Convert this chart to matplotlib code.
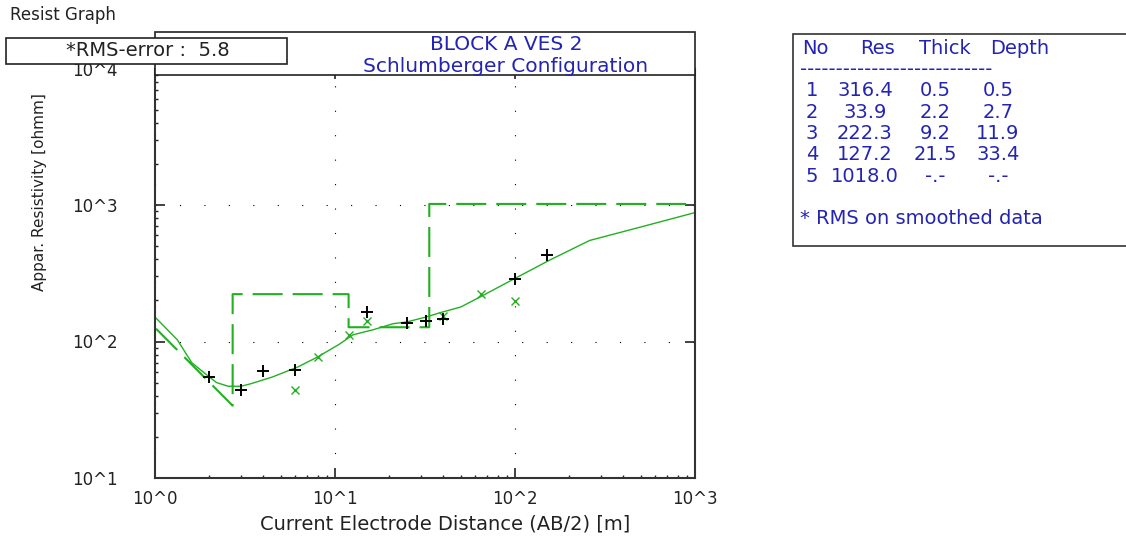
import numpy as np
import matplotlib
matplotlib.use('Agg')
import matplotlib.pyplot as plt
from matplotlib.patches import Rectangle
from matplotlib.ticker import FuncFormatter

# Sounding data: AB/2 [m] and apparent resistivity [ohmm]
field_ab2 = [2.0, 3.0, 4.0, 6.0, 15.0, 25.0, 32.0, 40.0, 100.0, 150.0]
field_rho = [55, 44, 61, 62, 164, 136, 141, 146, 287, 430]

smooth_ab2 = [6.0, 8.0, 12.0, 15.0, 40.0, 65.0, 100.0]
smooth_rho = [44, 77, 112, 141, 154, 223, 198]

# Calculated (model) response curve
curve_ab2 = [1.0, 1.33, 1.6, 2.0, 2.2, 2.55, 3.0, 3.4, 4.5, 6.2, 8.0, 10.5, 12.6,
             16.3, 21.0, 25.0, 32.0, 38.0, 50.0, 64.0, 100.0, 156.0, 260.0, 500.0, 1000.0]
curve_rho = [151, 103, 70, 55, 50, 47, 47, 49, 55, 65, 77, 95, 112,
             122, 135, 139, 151, 162, 179, 212, 290, 395, 550, 690, 880]

# Layered model
layer_no = ['1', '2', '3', '4', '5']
layer_res = [316.4, 33.9, 222.3, 127.2, 1018.0]
layer_thick = [0.5, 2.2, 9.2, 21.5]
layer_depth = [0.5, 2.7, 11.9, 33.4]

rms_error = 5.8
title_lines = ['BLOCK A VES 2', 'Schlumberger Configuration']

W, H = 1126, 556
green = '#22b022'
blue = '#2424b4'
font = 'DejaVu Sans'


def fx(x):
    return x / W


def fy(y):
    return 1 - y / H


def fmt_exp(v, pos):
    return '10^%d' % round(np.log10(v))


def fmt_cell(v):
    return '-.-' if v is None else '%.1f' % v


plt.rcParams['font.family'] = font

fig = plt.figure(figsize=(W / 100, H / 100), dpi=100)
fig.patch.set_facecolor('white')
fig.text(fx(10), fy(15), 'Resist Graph', fontsize=12, color='#222222', va='center')

ax = fig.add_axes([fx(155), fy(478), (695 - 155) / W, (478 - 68.5) / H])
ax.set_xscale('log')
ax.set_yscale('log')
ax.set_xlim(1, 1000)
ax.set_ylim(10, 10000)

# step model line: joins (depth_i, res_i) then climbs to the next layer
mx = [layer_depth[0]]
my = [layer_res[0]]
for i in range(1, len(layer_depth)):
    mx += [layer_depth[i], layer_depth[i]]
    my += [layer_res[i], layer_res[i + 1]]
mx.append(1000)
my.append(layer_res[-1])
ax.plot(mx, my, color=green, lw=1.5, linestyle=(0.8, (14.4, 4.8)))

ax.plot(curve_ab2, curve_rho, color=green, lw=1.0)
ax.plot(smooth_ab2, smooth_rho, 'x', color=green, ms=6, mew=1.0)
ax.plot(field_ab2, field_rho, '+', color='black', ms=9, mew=1.4)

ax.grid(True, which='major', color='black', lw=0.8, linestyle=(0, (1, 21)))
ax.xaxis.set_major_formatter(FuncFormatter(fmt_exp))
ax.yaxis.set_major_formatter(FuncFormatter(fmt_exp))
ax.tick_params(which='both', direction='in', top=True, right=True, labelsize=12,
               colors='#222222')
ax.tick_params(which='major', length=7, width=1.2)
ax.tick_params(which='minor', length=2.5, width=1, top=False, right=False)
ax.tick_params(axis='x', pad=9)
ax.tick_params(axis='y', pad=27)
for s in ax.spines.values():
    s.set_linewidth(1.5)
    s.set_color('#333333')
ax.spines['top'].set_visible(False)

fig.text(fx(445), fy(524), 'Current Electrode Distance (AB/2) [m]', fontsize=14,
         ha='center', va='center', color='#222222')
fig.text(fx(40), fy(192), 'Appar. Resistivity [ohmm]', fontsize=11,
         rotation=90, ha='center', va='center', color='#222222')

# title box and rms box over the top of the plot
fig.add_artist(Rectangle((fx(155), fy(75)), (695 - 155) / W, (75 - 32) / H,
                         transform=fig.transFigure, facecolor='white',
                         edgecolor='#222222', lw=1.2, zorder=5))
fig.text(fx(506), fy(45), title_lines[0], fontsize=14.5, color=blue,
         ha='center', va='center', zorder=6)
fig.text(fx(506), fy(66), title_lines[1], fontsize=14.5, color=blue,
         ha='center', va='center', zorder=6)

fig.add_artist(Rectangle((fx(6), fy(64)), (287 - 6) / W, (64 - 38) / H,
                         transform=fig.transFigure, facecolor='white',
                         edgecolor='#222222', lw=1.2, zorder=7))
fig.text(fx(148), fy(51), '*RMS-error :  %.1f' % rms_error, fontsize=14,
         color='#222222', ha='center', va='center', zorder=8)

# layer table
fig.add_artist(Rectangle((fx(793), fy(246)), (1130 - 793) / W, (246 - 34) / H,
                         transform=fig.transFigure, facecolor='white',
                         edgecolor='#333333', lw=1.2, zorder=5))
head = ['No', 'Res', 'Thick', 'Depth']
head_x = [815, 878, 945, 1020]
col_x = [812, 865, 935, 998]
for h, x in zip(head, head_x):
    fig.text(fx(x), fy(48), h, fontsize=14, color=blue, ha='center', va='center', zorder=6)
fig.text(fx(800), fy(70), '-' * 27, fontsize=14, color=blue, va='center', zorder=6)
row_y = [91, 112, 133, 155, 177]
for i in range(len(layer_res)):
    th = layer_thick[i] if i < len(layer_thick) else None
    dp = layer_depth[i] if i < len(layer_depth) else None
    cells = [layer_no[i], fmt_cell(layer_res[i]), fmt_cell(th), fmt_cell(dp)]
    for c, x in zip(cells, col_x):
        fig.text(fx(x), fy(row_y[i]), c, fontsize=14, color=blue,
                 ha='center', va='center', zorder=6)
fig.text(fx(800), fy(218), '* RMS on smoothed data', fontsize=14, color=blue,
         va='center', zorder=6)

fig.savefig('out.png', dpi=100)
